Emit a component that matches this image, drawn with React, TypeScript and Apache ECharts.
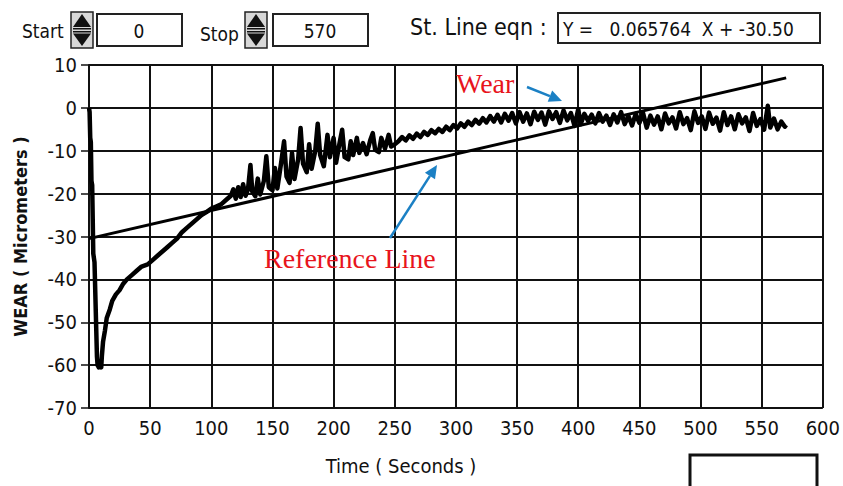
import React, { useEffect, useRef } from "react";
import * as echarts from "echarts";

// ---------- controls / labels ----------
const startValue = "0";
const stopValue = "570";
const equationLabel = "St. Line eqn :";
const equationText = "Y =   0.065764  X + -30.50";
const xAxisTitle = "Time ( Seconds )";
const yAxisTitle = "WEAR ( Micrometers )";
const wearLabel = "Wear";
const refLabel = "Reference Line";

// ---------- axes ----------
const xMin = 0;
const xMax = 600;
const xStep = 50;
const yMin = -70;
const yMax = 10;
const yStep = 10;

// ---------- reference (straight) line: Y = 0.065764 X - 30.50 ----------
const referenceLine: [number, number][] = [
  [0, -30.5],
  [570, 6.99],
];

// ---------- wear curve ----------
const wearDrop: [number, number][] = [
  [0, 0], [0.5, -1], [1, -7], [1.5, -8], [2, -17], [2.6, -18], [3.5, -34],
  [4.5, -36], [6.5, -58], [7, -60], [8, -60.5], [9, -60], [10, -60.5], [10.5, -58],
];

const wearRecovery: [number, number][] = [
  [11.5, -54.5], [13, -52], [14.5, -49], [17, -47], [19, -45], [22, -43.5],
  [25, -42.5], [28, -41], [31, -40], [35, -39], [39, -38], [43, -37],
  [48, -36.5], [52, -35.5], [56, -34.5], [60, -33.5], [64, -32.5], [68, -31.5],
  [72, -30.5], [76, -29], [80, -28], [84, -27], [88, -26], [92, -25],
  [96, -24.3], [100, -23.5], [104, -23], [108, -22.5], [112, -21.5], [116, -20.5],
];

const wearOscillating: [number, number][] = [
  [118, -19], [120, -21.2], [122, -18.5], [124, -20.8], [126, -17.8], [128, -20.5],
  [130, -19], [132, -13.3], [133.5, -19.5], [136, -20.6], [138, -16.5], [140, -20.2],
  [143, -17], [145, -11.3], [147, -18.5], [150, -19.2], [152, -14], [154, -18.8],
  [157, -13], [159.5, -7.8], [161.5, -16], [164, -17.5], [166, -10.5], [168, -16.6],
  [171, -12], [173, -4.7], [175, -13], [178, -15], [180, -8.5], [182, -14.2],
  [185, -10], [187, -3.7], [189, -11], [192, -13.6], [195, -6.3], [197, -11.5],
  [200, -7], [202, -12.8], [205, -8], [207, -5.1], [209, -11.5], [212, -12],
  [214, -7.8], [216, -11], [219, -7], [221, -10.5], [224, -8.2], [227, -10.8],
  [230, -7.5], [232, -5.9], [234, -9.8], [237, -10.3], [239, -7], [242, -9.5],
  [245, -6.3], [247, -9], [250, -8.5],
];

const wearSteady: [number, number][] = [
  [253, -7.8], [256, -6.8], [259, -7.6], [262, -6.4], [265, -7.2], [268, -6.0],
  [271, -6.8], [274, -5.6], [277, -6.3], [280, -5.2], [283, -5.9], [286, -4.9],
  [289, -5.6], [292, -4.4], [295, -5.2], [298, -4.0], [301, -4.8], [304, -3.6],
  [307, -4.4], [310, -3.2], [313, -4.0], [316, -2.8], [319, -3.7], [322, -2.4],
  [325, -3.4], [328, -1.9], [331, -3.2], [334, -1.6], [337, -3.4], [340, -1.4],
  [343, -3.0], [346, -1.2], [349, -3.6], [352, -1.0], [355, -3.2], [358, -1.3],
  [361, -3.8], [364, -0.9], [367, -2.8], [370, -1.1], [373, -3.9], [376, -0.8],
  [379, -2.6], [382, -1.0], [385, -3.5], [388, -0.6], [391, -2.9], [394, -1.2],
  [397, -4.2], [400, -0.3], [402, -3.8], [405, -1.4], [408, -3.0], [411, -1.6],
  [414, -3.6], [417, -1.2], [420, -3.2], [423, -1.8], [426, -4.0], [429, -1.5],
  [432, -3.4], [435, -1.0], [438, -3.8], [441, -1.9], [444, -4.1], [447, -1.4],
  [450, -3.5], [453, -1.2], [456, -4.6], [459, -1.8], [462, -3.9], [465, -2.0],
  [468, -5.0], [471, -1.3], [474, -3.6], [477, -2.2], [480, -4.8], [483, -1.0],
  [486, -3.8], [489, -2.4], [492, -5.2], [495, -0.8], [498, -3.5], [501, -2.0],
  [504, -4.9], [507, -1.1], [510, -3.7], [513, -2.3], [516, -5.3], [519, -1.0],
  [522, -4.0], [525, -2.0], [528, -5.0], [531, -1.5], [534, -3.6], [537, -2.2],
  [540, -5.4], [543, -1.2], [546, -4.2], [549, -2.6], [552, -5.1], [555, 0.5],
  [557, -4.6], [560, -2.5], [563, -5.0], [566, -3.2], [569, -4.4], [570, -4.0],
];

const NUM_FONT = "'Liberation Sans Narrow', 'DejaVu Sans Condensed', sans-serif";
const LABEL_FONT = "'DejaVu Sans Condensed', 'Liberation Sans Narrow', sans-serif";
const SERIF = "'Liberation Serif', 'DejaVu Serif', serif";
const BLUE = "#1b80c4";
const RED = "#e8141c";

function spinner(x: number, y: number) {
  // up/down spin control icon (x,y = top-left)
  return {
    type: "group",
    x,
    y,
    children: [
      { type: "rect", shape: { x: 0, y: 0, width: 22, height: 36 }, style: { fill: "#d8d8d8", stroke: "#222", lineWidth: 1.5 } },
      { type: "polygon", shape: { points: [[11, 2], [20, 15], [2, 15]] }, style: { fill: "#111" } },
      { type: "rect", shape: { x: 2, y: 16, width: 18, height: 1.5 }, style: { fill: "#111" } },
      { type: "rect", shape: { x: 2, y: 19, width: 18, height: 1.5 }, style: { fill: "#111" } },
      { type: "polygon", shape: { points: [[2, 21.5], [20, 21.5], [11, 34]] }, style: { fill: "#111" } },
    ],
  };
}

function arrow(x1: number, y1: number, x2: number, y2: number) {
  const ang = Math.atan2(y2 - y1, x2 - x1);
  const L = 13;
  const W = 6;
  const bx = x2 - L * Math.cos(ang);
  const by = y2 - L * Math.sin(ang);
  const px = -Math.sin(ang) * W;
  const py = Math.cos(ang) * W;
  return [
    { type: "line", shape: { x1, y1, x2: bx, y2: by }, style: { stroke: BLUE, lineWidth: 2.5 } },
    { type: "polygon", shape: { points: [[x2, y2], [bx + px, by + py], [bx - px, by - py]] }, style: { fill: BLUE } },
  ];
}

export default function App() {
  const ref = useRef<HTMLDivElement>(null);

  useEffect(() => {
    document.body.style.margin = "0";
    if (!ref.current) return;
    const chart = echarts.init(ref.current, undefined, { renderer: "svg" });
    const wearData = [...wearDrop, ...wearRecovery, ...wearOscillating, ...wearSteady];

    chart.setOption({
      animation: false,
      backgroundColor: "#ffffff",
      grid: { left: 89, right: 18, top: 65, bottom: 78, containLabel: false },
      xAxis: {
        type: "value",
        min: xMin,
        max: xMax,
        interval: xStep,
        axisLine: { show: true, lineStyle: { color: "#111", width: 2 } },
        axisTick: { show: true, length: 7, lineStyle: { color: "#111", width: 1.5 } },
        axisLabel: { color: "#111", fontFamily: NUM_FONT, fontSize: 20, margin: 10 },
        splitLine: { show: true, lineStyle: { color: "#111", width: 2 } },
      },
      yAxis: {
        type: "value",
        min: yMin,
        max: yMax,
        interval: yStep,
        name: yAxisTitle,
        nameLocation: "middle",
        nameGap: 60,
        nameTextStyle: { color: "#111", fontFamily: "'DejaVu Sans Condensed', 'DejaVu Sans', sans-serif", fontWeight: "bold", fontSize: 18 },
        axisLine: { show: true, lineStyle: { color: "#111", width: 2 } },
        axisTick: { show: true, length: 8, lineStyle: { color: "#111", width: 1.5 } },
        axisLabel: { color: "#111", fontFamily: NUM_FONT, fontSize: 20, margin: 12 },
        splitLine: { show: true, lineStyle: { color: "#111", width: 2 } },
      },
      series: [
        {
          name: "Reference Line",
          type: "line",
          data: referenceLine,
          showSymbol: false,
          lineStyle: { color: "#000", width: 3 },
          z: 2,
        },
        {
          name: "Wear",
          type: "line",
          data: wearData,
          showSymbol: false,
          lineStyle: { color: "#000", width: 4.5, join: "round" },
          z: 3,
        },
      ],
      graphic: [
        // top controls
        { type: "text", x: 22, y: 31, style: { text: "Start", font: `19px ${NUM_FONT}`, fill: "#111", textVerticalAlign: "middle" } },
        spinner(71, 12),
        { type: "rect", shape: { x: 97, y: 14, width: 85, height: 32 }, style: { fill: "#fff", stroke: "#222", lineWidth: 2 } },
        { type: "text", x: 139, y: 31, style: { text: startValue, font: `19px ${NUM_FONT}`, fill: "#111", textAlign: "center", textVerticalAlign: "middle" } },
        { type: "text", x: 200, y: 34, style: { text: "Stop", font: `19px ${NUM_FONT}`, fill: "#111", textVerticalAlign: "middle" } },
        spinner(245, 12),
        { type: "rect", shape: { x: 273, y: 14, width: 95, height: 32 }, style: { fill: "#fff", stroke: "#222", lineWidth: 2 } },
        { type: "text", x: 320, y: 31, style: { text: stopValue, font: `19px ${NUM_FONT}`, fill: "#111", textAlign: "center", textVerticalAlign: "middle" } },
        { type: "text", x: 410, y: 27, style: { text: equationLabel, font: `23px ${NUM_FONT}`, fill: "#111", textVerticalAlign: "middle" } },
        { type: "rect", shape: { x: 558, y: 13, width: 262, height: 30 }, style: { fill: "#fff", stroke: "#222", lineWidth: 2 } },
        { type: "text", x: 563, y: 29, style: { text: equationText, font: `19px ${NUM_FONT}`, fill: "#111", textVerticalAlign: "middle" } },
        // x-axis title
        { type: "text", x: 401, y: 466, style: { text: xAxisTitle, font: `20px ${LABEL_FONT}`, fill: "#111", textAlign: "center", textVerticalAlign: "middle" } },
        // bottom empty box
        { type: "rect", shape: { x: 690, y: 455, width: 127, height: 40 }, style: { fill: "#fff", stroke: "#111", lineWidth: 3 } },
        // annotations
        { type: "text", x: 456, y: 83, z: 10, style: { text: wearLabel, font: `28px ${SERIF}`, fill: RED, textVerticalAlign: "middle" } },
        { type: "text", x: 264, y: 258, z: 10, style: { text: refLabel, font: `28px ${SERIF}`, fill: RED, textVerticalAlign: "middle" } },
        ...arrow(527, 87, 562, 101).map((e) => ({ ...e, z: 10 })),
        ...arrow(390, 238, 437, 165).map((e) => ({ ...e, z: 10 })),
      ],
    });

    return () => chart.dispose();
  }, []);

  return <div ref={ref} style={{ width: 843, height: 486 }} />;
}
